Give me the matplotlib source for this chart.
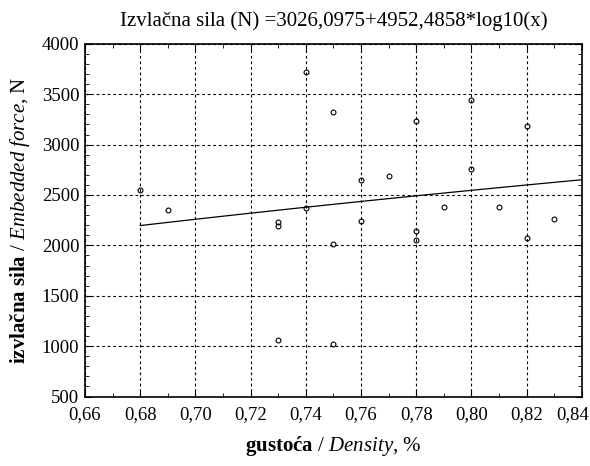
import matplotlib.pyplot as plt
import numpy as np
from matplotlib.ticker import MultipleLocator, FuncFormatter

plt.rcParams['font.family'] = ['Liberation Serif', 'DejaVu Serif']
plt.rcParams['mathtext.fontset'] = 'custom'
plt.rcParams['mathtext.rm'] = 'Liberation Serif'
plt.rcParams['mathtext.bf'] = 'Liberation Serif:bold'
plt.rcParams['mathtext.it'] = 'Liberation Serif:italic'

density = [0.68, 0.69, 0.73, 0.73, 0.73, 0.74, 0.74, 0.75, 0.75, 0.75, 0.76, 0.76,
           0.77, 0.78, 0.78, 0.78, 0.79, 0.80, 0.80, 0.81, 0.82, 0.82, 0.83]
force = [2545, 2350, 2235, 2190, 1065, 3725, 2370, 3320, 2015, 1025, 2650, 2245,
         2685, 3235, 2140, 2050, 2385, 3445, 2755, 2385, 3180, 2070, 2265]

# fitted model: y = a + b*log10(x)
a, b = 3026.0975, 4952.4858
fit_x = np.linspace(0.68, 0.84, 100)
fit_y = a + b * np.log10(fit_x)

x_min, x_max = 0.66, 0.84

fig = plt.figure(figsize=(5.9, 4.66), dpi=100)
ax = fig.add_axes([0.144, 0.149, 0.842, 0.757])

ax.plot(fit_x, fit_y, color='black', lw=0.9)
ax.plot(density, force, 'o', ms=3.5, mfc='none', mec='black', mew=0.8)

ax.set_xlim(x_min, x_max)
ax.set_ylim(500, 4000)
ax.xaxis.set_major_locator(MultipleLocator(0.02))
ax.xaxis.set_minor_locator(MultipleLocator(0.01))
ax.yaxis.set_major_locator(MultipleLocator(500))
ax.yaxis.set_minor_locator(MultipleLocator(100))

def comma_fmt(v, p):
    if abs(v - x_max) < 1e-9:
        return ''  # drawn separately below, pushed inside the figure
    return f"{v:.2f}".replace('.', ',')

ax.xaxis.set_major_formatter(FuncFormatter(comma_fmt))

ax.tick_params(which='both', direction='in', top=True, right=True, labelsize=13.5)
ax.tick_params(axis='x', pad=7)
ax.tick_params(axis='y', pad=4)
ax.tick_params(which='major', length=4)
ax.tick_params(which='minor', length=3)
ax.grid(True, which='major', color='black', ls=(0, (2.5, 2.5)), lw=0.8)
for s in ax.spines.values():
    s.set_linewidth(1.2)

ax.annotate(f"{x_max:.2f}".replace('.', ','), xy=(x_max, 0), xycoords=('data', 'axes fraction'),
            xytext=(5, -7), textcoords='offset points', ha='right', va='top', fontsize=13.5)

ax.set_title("Izvlačna sila (N) =3026,0975+4952,4858*log10(x)", fontsize=15, pad=13)
ax.set_xlabel(r"$\mathbf{gustoća}$ / $\mathit{Density}$, %", fontsize=15, labelpad=8)
ax.set_ylabel(r"$\mathbf{izvlačna\ sila}$ / $\mathit{Embedded\ force}$, N", fontsize=15, labelpad=7)

fig.savefig('out.png', dpi=100)
